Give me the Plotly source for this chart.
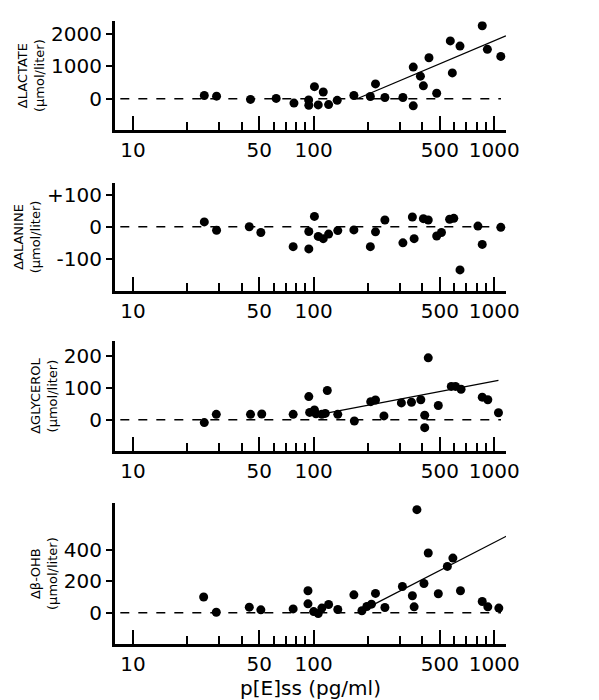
import plotly.graph_objects as go

# ----- data -----
lac_x = [24.8, 29, 44.7, 62, 77.8, 93.8, 94, 101, 106, 113, 121, 135, 167, 206, 220, 248, 312,
         356, 356, 390, 405, 435, 480, 571, 586, 646, 858, 916, 1087]
lac_y = [100, 80, -20, 10, -135, -40, -200, 375, -190, 210, -180, -50, 100, 70, 460, 40, 40,
         980, -220, 700, 400, 1270, 170, 1790, 800, 1630, 2260, 1530, 1310]
lac_fit_x = [174, 1160]
lac_fit_y = [0, 1950]

ala_x = [24.8, 29, 44, 51, 77, 94, 94, 101, 106, 113, 121, 136, 167, 206, 220, 248, 312,
         352, 360, 405, 431, 480, 510, 566, 597, 646, 812, 858, 1087]
ala_y = [15, -11, 0, -18, -62, -15, -69, 32, -30, -37, -23, -12, -10, -62, -16, 21, -50,
         30, -37, 25, 21, -29, -18, 23, 26, -134, 2, -55, -2]

gly_x = [24.8, 28.9, 44.7, 51.6, 77, 94, 95, 101, 103, 111, 116, 119, 136, 168, 207, 220, 245,
         306, 348, 392, 412, 412, 431, 490, 578, 610, 655, 858, 921, 1055]
gly_y = [-9, 17, 17, 18, 17, 73, 23, 31, 19, 17, 20, 92, 17, -4, 57, 62, 12,
         53, 55, 63, 14, -25, 195, 45, 105, 105, 96, 71, 63, 22]
gly_fit_x = [114, 1055]
gly_fit_y = [19, 124]

ohb_x = [24.6, 28.9, 44, 51, 77, 93, 93, 100, 106, 111, 121, 136, 167, 185, 197, 209, 220, 248,
         310, 352, 360, 373, 431, 408, 490, 550, 590, 650, 858, 921, 1060]
ohb_y = [100, 4, 36, 19, 25, 140, 57, 8, -4, 30, 53, 21, 114, 13, 40, 55, 123, 34,
         167, 108, 38, 654, 379, 186, 121, 294, 347, 140, 72, 38, 30]
ohb_fit_x = [178, 1210]
ohb_fit_y = [4, 495]

zero_x = [8.5, 1090]

panels = [
    ("ΔLACTATE<br>(μmol/liter)", lac_x, lac_y, lac_fit_x, lac_fit_y,
     [-970, 2400], [0, 1000, 2000], ["0", "1000", "2000"], [0.815, 0.98]),
    ("ΔALANINE<br>(μmol/liter)", ala_x, ala_y, None, None,
     [-200, 136], [-100, 0, 100], ["-100", "0", "+100"], [0.571, 0.735]),
    ("ΔGLYCEROL<br>(μmol/liter)", gly_x, gly_y, gly_fit_x, gly_fit_y,
     [-98, 247], [0, 100, 200], ["0", "100", "200"], [0.329, 0.495]),
    ("Δβ-OHB<br>(μmol/liter)", ohb_x, ohb_y, ohb_fit_x, ohb_fit_y,
     [-199, 696], [0, 200, 400], ["0", "200", "400"], [0.036, 0.25]),
]

major = [10, 50, 100, 500, 1000]
minor = [20, 30, 40, 60, 70, 80, 90, 200, 300, 400, 600, 700, 800, 900]

fig = go.Figure()
font = "DejaVu Sans"
for i, (title, x, y, fx, fy, yr, yt, ytt, dom) in enumerate(panels):
    n = "" if i == 0 else str(i + 1)
    xa, ya = "x" + n, "y" + n
    fig.add_trace(go.Scatter(x=zero_x, y=[0, 0], mode="lines", xaxis=xa, yaxis=ya,
                             line=dict(color="black", width=1.5, dash="dash")))
    if fx:
        fig.add_trace(go.Scatter(x=fx, y=fy, mode="lines", xaxis=xa, yaxis=ya,
                                 line=dict(color="black", width=1.3)))
    fig.add_trace(go.Scatter(x=x, y=y, mode="markers", xaxis=xa, yaxis=ya,
                             marker=dict(color="black", size=9)))
    fig.layout["xaxis" + n] = dict(
        type="log", range=[0.9, 3.065], anchor=ya, showline=True, linecolor="black",
        linewidth=3, showgrid=False, zeroline=False, ticks="inside", ticklen=14,
        tickwidth=2, tickcolor="black", tickvals=major, ticktext=[str(v) for v in major],
        minor=dict(tickvals=minor, ticks="inside", ticklen=8, tickwidth=2, tickcolor="black"),
        tickfont=dict(family=font, size=20, color="black"))
    fig.layout["yaxis" + n] = dict(
        domain=dom, range=yr, anchor=xa, showline=True, linecolor="black", linewidth=3,
        showgrid=False, zeroline=False, ticks="outside", ticklen=6, tickwidth=2,
        tickcolor="black", tickvals=yt, ticktext=ytt,
        tickfont=dict(family=font, size=20, color="black"),
        title=dict(text=title, font=dict(family=font, size=13, color="black"), standoff=4))

fig.layout.xaxis4.title = dict(text="p[E]ss (pg/ml)", font=dict(family=font, size=20, color="black"),
                               standoff=6)
fig.update_layout(width=599, height=700, showlegend=False, plot_bgcolor="white",
                  paper_bgcolor="white", margin=dict(l=107, r=101, t=0, b=40))
fig.write_html("out.html")
